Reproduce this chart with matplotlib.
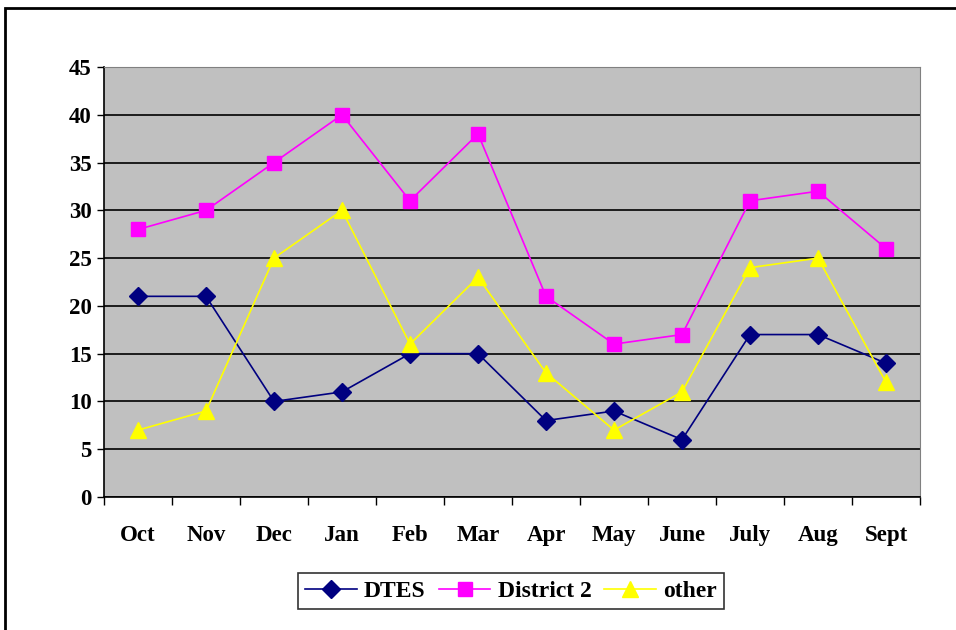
import matplotlib
matplotlib.use("Agg")
import matplotlib.pyplot as plt
from matplotlib.patches import Rectangle

months = ["Oct", "Nov", "Dec", "Jan", "Feb", "Mar", "Apr", "May", "June", "July", "Aug", "Sept"]
dtes = [21, 21, 10, 11, 15, 15, 8, 9, 6, 17, 17, 14]
district2 = [28, 30, 35, 40, 31, 38, 21, 16, 17, 31, 32, 26]
other = [7, 9, 25, 30, 16, 23, 13, 7, 11, 24, 25, 12]

plt.rcParams["font.family"] = ["Liberation Serif", "DejaVu Serif"]
plt.rcParams["font.weight"] = "bold"

fig = plt.figure(figsize=(9.56, 6.3), dpi=100)
ax = fig.add_axes([104 / 956, 133 / 630, 816 / 956, 430 / 630])
ax.set_facecolor("#c0c0c0")

x = list(range(len(months)))
ax.plot(x, dtes, color="#000080", marker="D", ms=9.5, lw=1.2, label="DTES")
ax.plot(x, district2, color="#ff00ff", marker="s", ms=9.5, lw=1.2, label="District 2")
ax.plot(x, other, color="#ffff00", marker="^", ms=11, lw=1.2, label="other")

ax.set_xlim(-0.5, len(months) - 0.5)
ax.set_ylim(0, 45)
ax.set_yticks(range(0, 46, 5))
ax.set_xticks(x)
ax.set_xticklabels(months)
ax.set_xticks([i - 0.5 for i in range(len(months) + 1)], minor=True)
ax.tick_params(axis="x", which="major", length=0, pad=20, labelsize=16.5)
ax.tick_params(axis="x", which="minor", length=6, width=1, direction="out")
ax.tick_params(axis="y", length=5, width=1, direction="out", labelsize=16.5, pad=4)
ax.grid(axis="y", color="black", lw=1.2)
ax.set_axisbelow(True)

for s in ["top", "right"]:
    ax.spines[s].set_color("#808080")
for s in ["left", "bottom"]:
    ax.spines[s].set_color("black")
    ax.spines[s].set_linewidth(1.2)

leg = ax.legend(loc="center", bbox_to_anchor=(511 / 956, 1 - 591 / 630), bbox_transform=fig.transFigure,
                ncol=3, frameon=True, fancybox=False, edgecolor="black", fontsize=17,
                handlelength=2.2, columnspacing=0.55, handletextpad=0.3, borderpad=0.3)
leg.get_frame().set_linewidth(1.2)

fig.patches.append(Rectangle((5 / 956, -0.1), 1.0, 0.1 + 622 / 630, transform=fig.transFigure,
                             fill=False, edgecolor="black", lw=2))

fig.savefig("out.png", dpi=100)
